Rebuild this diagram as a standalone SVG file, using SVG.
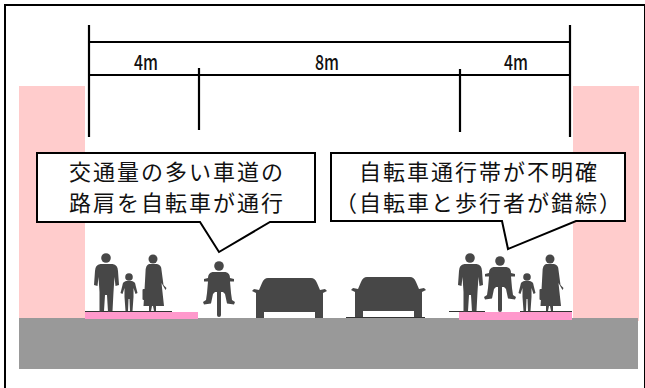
<svg xmlns="http://www.w3.org/2000/svg" width="645" height="388" viewBox="0 0 645 388">
  <style>
    .dim { stroke: #000; stroke-width: 2.2; fill: none; }
    .dimtxt { font-family: "Noto Sans CJK JP", "DejaVu Sans", sans-serif; font-size: 21px; font-weight: 500; fill: #111; text-anchor: middle; }
    .call { fill: #fff; stroke: #000; stroke-width: 2; stroke-linejoin: miter; }
    .calltxt { font-family: "Noto Sans CJK JP", "Noto Sans", sans-serif; font-size: 22px; letter-spacing: 2px; fill: #111; text-anchor: middle; }
    .sil { fill: #474747; }
    .gline { stroke: #333; stroke-width: 1.2; }
    .walk { fill: #ff99cc; }
    .side { fill: #ffcccc; }
  </style>
  <defs>
    <path id="man" d="M100.5,264 L112.5,264 Q118,265 118,271 L119,285 L115.5,286 L114.5,277 L113.5,292 L112.5,311 L108,312 L107,295 L105,295 L104,311 L99.5,312 L99.5,292 L98.5,277 L97.5,286 L94,285 L95,271 Q95,265 100.5,264 Z"/>
    <path id="child" d="M126,281 L132,281 Q135.5,282 135.5,285 L137.5,293 L135.5,294 L133.5,288 L133.5,297 L132.5,311 L130,311 L129.5,299 L128.5,299 L128,311 L125.5,311 L124.5,297 L124.5,288 L122.5,294 L120.5,293 L122.5,285 Q122.5,282 126,281 Z"/>
    <path id="woman" d="M149,264 L157,264 Q161.5,265 161.5,270 L163.5,285 L166.5,288 L165.5,290 L161.5,283 L164,306 L156,306 L156,311 L154,311 L153,306 L152,306 L151,311 L149,311 L149,306 L143.5,306 L144.5,290 L145.5,272 Q145.5,265 149,264 Z"/>
    <path id="rider" d="M212.5,272 L225.5,272 Q230,273 230,278 L234,279 L234,281.5 L230,281.5 L231,293 L232,300 L235,302 L234,304.5 L227,303.5 L225,294 L223,292 L215,292 L213,294 L211,303.5 L204,304.5 L203,302 L206,300 L207,293 L208,281.5 L204,281.5 L204,279 L208,278 Q208,273 212.5,272 Z"/>
    <path id="car" d="M268,278 L311,278 Q315,278 317,283 L320,290 L325,289 L327,291 L323,293 L323,318 L315,318 L315,312 L264,312 L264,318 L256,318 L256,293 L252,291 L254,289 L259,290 L262,283 Q264,278 268,278 Z"/>
  </defs>

  <!-- frame -->
  <rect x="5" y="5" width="640" height="390" fill="#fff" stroke="#000" stroke-width="2"/>

  <!-- roadside zones and pavement -->
  <g id="roadside">
    <rect class="side" x="19" y="86" width="66" height="235"/>
    <rect class="side" x="573" y="86" width="66" height="235"/>
    <rect x="19" y="318" width="619" height="51" fill="#999999"/>
    <rect class="walk" x="85" y="312" width="113" height="7"/>
    <rect class="walk" x="459" y="312" width="113" height="8"/>
    <line class="gline" x1="85" y1="311.5" x2="172" y2="311.5"/>
    <line class="gline" x1="449" y1="311.5" x2="485" y2="311.5"/>
    <line class="gline" x1="520" y1="311.5" x2="572" y2="311.5"/>
    <line class="gline" x1="346" y1="317.5" x2="425" y2="317.5"/>
  </g>

  <!-- width dimensions -->
  <g id="dimensions">
    <line class="dim" x1="89" y1="25" x2="89" y2="137"/>
    <line class="dim" x1="570" y1="25" x2="570" y2="137"/>
    <line class="dim" x1="89" y1="42" x2="570" y2="42"/>
    <line class="dim" x1="89" y1="75" x2="570" y2="75"/>
    <line class="dim" x1="199" y1="68" x2="199" y2="130"/>
    <line class="dim" x1="460" y1="69" x2="460" y2="132"/>
    <text class="dimtxt" x="146" y="70" textLength="24" lengthAdjust="spacingAndGlyphs">4m</text>
    <text class="dimtxt" x="327" y="70" textLength="24" lengthAdjust="spacingAndGlyphs">8m</text>
    <text class="dimtxt" x="516" y="70" textLength="24" lengthAdjust="spacingAndGlyphs">4m</text>
  </g>

  <!-- road users, left side -->
  <g id="left-users">
    <circle class="sil" cx="106" cy="258" r="4.8"/>
    <use href="#man" class="sil"/>
    <circle class="sil" cx="129" cy="277" r="3.8"/>
    <use href="#child" class="sil"/>
    <circle class="sil" cx="153" cy="259" r="4.5"/>
    <use href="#woman" class="sil"/>
    <rect class="sil" x="142.5" y="289" width="7.5" height="11" rx="1"/>
    <circle class="sil" cx="219" cy="266" r="4.8"/>
    <use href="#rider" class="sil"/>
    <rect class="sil" x="217" y="283" width="4" height="34" rx="2"/>
  </g>

  <!-- cars -->
  <g id="cars">
    <use href="#car" class="sil"/>
    <use href="#car" class="sil" transform="translate(99,-1)"/>
  </g>

  <!-- road users, right side -->
  <g id="right-users">
    <g transform="translate(364,0)">
      <circle class="sil" cx="106" cy="258" r="4.8"/>
      <use href="#man" class="sil"/>
    </g>
    <g transform="translate(281,-5)">
      <circle class="sil" cx="219" cy="266" r="4.8"/>
      <use href="#rider" class="sil"/>
      <rect class="sil" x="217" y="283" width="4" height="34" rx="2"/>
    </g>
    <g transform="translate(398,0)">
      <circle class="sil" cx="129" cy="277" r="3.8"/>
      <use href="#child" class="sil"/>
    </g>
    <g transform="translate(397,0)">
      <circle class="sil" cx="153" cy="259" r="4.5"/>
      <use href="#woman" class="sil"/>
      <rect class="sil" x="142.5" y="289" width="7.5" height="11" rx="1"/>
    </g>
  </g>

  <!-- callouts -->
  <g id="callout-left">
    <path class="call" d="M37,153 L315,153 L315,222 L270,222 L219,252 L200,222 L37,222 Z"/>
    <text class="calltxt" x="177" y="180">交通量の多い車道の</text>
    <text class="calltxt" x="177" y="211">路肩を自転車が通行</text>
  </g>
  <g id="callout-right">
    <path class="call" d="M331,153 L625,153 L625,221 L576,221 L508,249 L502,221 L331,221 Z"/>
    <text class="calltxt" x="479" y="180">自転車通行帯が不明確</text>
    <text class="calltxt" x="479" y="211">（自転車と歩行者が錯綜）</text>
  </g>
</svg>
